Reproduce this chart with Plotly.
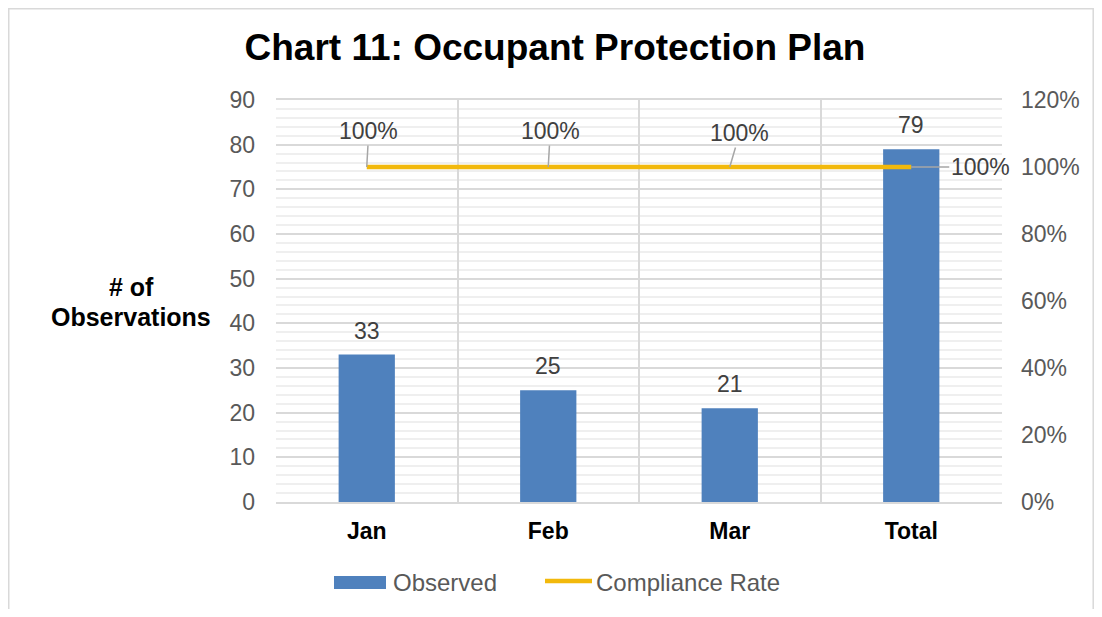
import plotly.graph_objects as go

categories = ["Jan", "Feb", "Mar", "Total"]
observed = [33, 25, 21, 79]
compliance = [1.0, 1.0, 1.0, 1.0]
compliance_labels = ["100%", "100%", "100%", "100%"]
left_ticks = list(range(0, 91, 10))
right_ticks = [0, 0.2, 0.4, 0.6, 0.8, 1.0, 1.2]
right_tick_labels = ["0%", "20%", "40%", "60%", "80%", "100%", "120%"]
y_title_lines = ["# of", "Observations"]

OFF = 8  # browser body margin
W, H = 1102 - 2 * OFF, 617 - 2 * OFF
# plot area in screen pixels
SL, SR, ST, SB = 276, 1002, 100, 502
L, R, T, B = SL - OFF, SR - OFF, ST - OFF, SB - OFF


def px(x):
    return (x - SL) / (SR - SL)


def py(y):
    return (SB - y) / (SB - ST)


BAR = "#4F81BD"
GOLD = "#F2B90C"
FONT = "Arial, Liberation Sans, sans-serif"

fig = go.Figure()
fig.add_trace(go.Bar(x=categories, y=observed, name="Observed",
                     marker=dict(color=BAR, line=dict(width=0)),
                     width=0.31, yaxis="y"))
fig.add_trace(go.Scatter(x=categories, y=compliance, name="Compliance Rate",
                         mode="lines", line=dict(color=GOLD, width=4.5),
                         yaxis="y2"))

anns = []
# bar value labels
for c, v in zip(categories, observed):
    anns.append(dict(x=c, y=v, xref="x", yref="y", text=str(v), showarrow=False,
                     yshift=24, font=dict(size=23, color="#404040", family=FONT)))
# compliance labels with leader lines
offsets = [(2, -36), (2, -36), (10, -34), (69, 0)]
for c, v, t, (ax, ay) in zip(categories, compliance, compliance_labels, offsets):
    anns.append(dict(x=c, y=v, xref="x", yref="y2", text=t, showarrow=True,
                     arrowhead=0, arrowwidth=1.5, arrowcolor="#A6A6A6",
                     ax=ax, ay=ay, standoff=0, startstandoff=0,
                     font=dict(size=23, color="#404040", family=FONT)))
# y-axis title (two lines)
for line, yy in zip(y_title_lines, [287, 317]):
    anns.append(dict(x=px(131), y=py(yy), xref="paper", yref="paper",
                     xanchor="center", yanchor="middle",
                     text="<b>" + line + "</b>", showarrow=False,
                     font=dict(size=25, color="#000000", family=FONT)))
# legend texts
anns.append(dict(x=px(391), y=py(582), xref="paper", yref="paper", text="Observed",
                 showarrow=False, xanchor="left", yanchor="middle",
                 font=dict(size=24, color="#595959", family=FONT)))
anns.append(dict(x=px(594), y=py(582), xref="paper", yref="paper", text="Compliance Rate",
                 showarrow=False, xanchor="left", yanchor="middle",
                 font=dict(size=24, color="#595959", family=FONT)))

shapes = [
    dict(type="rect", xref="paper", yref="paper", x0=px(334), x1=px(386),
         y0=py(589), y1=py(576), fillcolor=BAR, line=dict(width=0)),
    dict(type="line", xref="paper", yref="paper", x0=px(545), x1=px(592),
         y0=py(581), y1=py(581), line=dict(color=GOLD, width=4.5)),
    dict(type="rect", xref="paper", yref="paper", x0=px(8.75), x1=px(1093.2),
         y0=py(640), y1=py(8.75), line=dict(color="#D9D9D9", width=1.5),
         fillcolor="rgba(0,0,0,0)", layer="below"),
]

fig.update_layout(
    width=W, height=H,
    margin=dict(l=L, r=W - R, t=T, b=H - B, pad=0),
    paper_bgcolor="white", plot_bgcolor="white",
    showlegend=False,
    title=dict(text="<b>Chart 11: Occupant Protection Plan</b>", x=(555 - OFF) / W,
               xanchor="center", y=1 - (47 - OFF) / H, yanchor="middle",
               font=dict(size=37, color="#000000", family=FONT)),
    font=dict(family=FONT),
    xaxis=dict(type="category", range=[-0.5, len(categories) - 0.5],
               tickson="boundaries", showgrid=True,
               gridcolor="#D9D9D9", gridwidth=1.5, ticks="", showline=True,
               linecolor="#D9D9D9", linewidth=1.5, mirror=True,
               tickfont=dict(size=23, color="#000000", family=FONT, weight="bold"),
               ticklabelstandoff=8),
    yaxis=dict(range=[0, 90], tickvals=left_ticks, showgrid=True,
               gridcolor="#D9D9D9", gridwidth=1.5, zeroline=False,
               minor=dict(dtick=2, showgrid=True, gridcolor="#EFEFEF", gridwidth=1.5),
               tickfont=dict(size=23, color="#595959", family=FONT),
               ticks="", ticklabelstandoff=20),
    yaxis2=dict(range=[0, 1.2], tickvals=right_ticks, ticktext=right_tick_labels,
                overlaying="y", side="right", showgrid=False, zeroline=False,
                tickfont=dict(size=23, color="#595959", family=FONT),
                ticks="", ticklabelstandoff=18),
    annotations=anns,
    shapes=shapes,
)

fig.write_html("out.html")
